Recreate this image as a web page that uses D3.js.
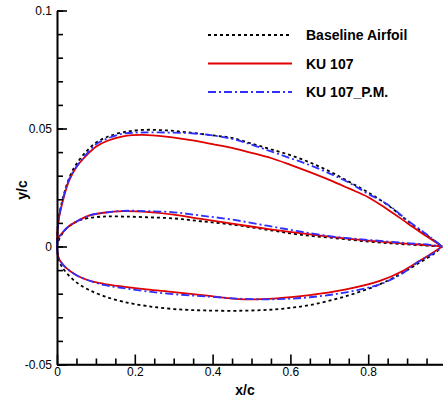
<!DOCTYPE html>
<html lang="en">
<head>
<meta charset="UTF-8">
<title>Airfoil shapes</title>
<script src="https://d3js.org/d3.v7.min.js"></script>
<style>
  body { margin: 0; background: #fff; }
  svg { display: block; font-family: "Liberation Sans", Arial, sans-serif; }
  .axis path, .axis line { stroke: #000; stroke-width: 1.6; }
  .axis text { font-size: 12px; fill: #000; }
  .lbl { font-size: 14px; font-weight: bold; }
</style>
</head>
<body>
<div id="chart"></div>
<script>
// x stations (x/c) for each surface
var xUpper  = [0, 0.003, 0.01, 0.03, 0.05, 0.075, 0.1, 0.13, 0.17, 0.22, 0.28, 0.34, 0.4, 0.45, 0.5, 0.55, 0.6, 0.65, 0.7, 0.75, 0.8, 0.85, 0.9, 0.95, 0.99];
var xMiddle = [0, 0.003, 0.012, 0.03, 0.055, 0.08, 0.12, 0.17, 0.23, 0.3, 0.37, 0.45, 0.54, 0.62, 0.71, 0.8, 0.88, 0.96, 0.99];
var xLower  = [0, 0.003, 0.01, 0.025, 0.05, 0.08, 0.12, 0.17, 0.23, 0.3, 0.38, 0.48, 0.57, 0.65, 0.74, 0.83, 0.89, 0.93, 0.97, 0.99];

// Baseline Airfoil
var baseUpper  = [0, 0.010, 0.017, 0.0285, 0.035, 0.0402, 0.044, 0.0465, 0.0484, 0.0494, 0.0492, 0.0483, 0.0471, 0.046, 0.0436, 0.0412, 0.0387, 0.0356, 0.0319, 0.0275, 0.0229, 0.0176, 0.011, 0.0048, 0];
var baseMiddle = [0, 0.002, 0.005, 0.0085, 0.0109, 0.012, 0.0127, 0.0127, 0.0124, 0.0119, 0.0107, 0.0093, 0.0071, 0.0051, 0.0036, 0.0021, 0.0011, 0.0003, 0];
var baseLower  = [0, -0.0045, -0.0078, -0.0113, -0.0152, -0.0182, -0.021, -0.0234, -0.0252, -0.0265, -0.0271, -0.0272, -0.0265, -0.0248, -0.0212, -0.016, -0.011, -0.007, -0.003, 0];

// KU 107
var kuUpper  = [0, 0.010, 0.016, 0.0275, 0.0337, 0.0385, 0.0423, 0.0448, 0.0467, 0.0473, 0.0466, 0.0452, 0.0434, 0.0418, 0.0397, 0.0375, 0.0346, 0.0315, 0.0282, 0.0246, 0.0209, 0.0157, 0.0100, 0.0043, 0];
var kuMiddle = [0, 0.0035, 0.0055, 0.0085, 0.011, 0.013, 0.0143, 0.015, 0.0147, 0.0135, 0.0117, 0.0097, 0.0075, 0.0058, 0.004, 0.0025, 0.0014, 0.0005, 0];
var kuLower  = [0, -0.0042, -0.0066, -0.0093, -0.0122, -0.0143, -0.0158, -0.017, -0.0182, -0.0193, -0.0207, -0.0224, -0.0219, -0.0206, -0.0183, -0.0146, -0.0103, -0.0063, -0.0022, 0];

// KU 107_P.M.
var pmUpper  = [0, 0.010, 0.0165, 0.028, 0.0338, 0.039, 0.0433, 0.0458, 0.0478, 0.0483, 0.0483, 0.048, 0.0471, 0.0456, 0.0432, 0.0403, 0.0374, 0.0345, 0.031, 0.0271, 0.0223, 0.0178, 0.0112, 0.0052, 0];
var pmMiddle = [0, 0.0035, 0.0055, 0.0085, 0.011, 0.013, 0.0143, 0.0151, 0.015, 0.0145, 0.0131, 0.0114, 0.0088, 0.0065, 0.0042, 0.0028, 0.0017, 0.0007, 0];
var pmLower  = [0, -0.0042, -0.0066, -0.0093, -0.0122, -0.0143, -0.0163, -0.0176, -0.019, -0.0202, -0.0211, -0.0222, -0.0223, -0.0215, -0.0195, -0.016, -0.0112, -0.0064, -0.0026, 0];

var seriesNames = ["Baseline Airfoil", "KU 107", "KU 107_P.M."];
var xTicks = [0, 0.2, 0.4, 0.6, 0.8];
var yTicks = [-0.05, 0, 0.05, 0.1];
var yTickLabels = ["-0.05", "0", "0.05", "0.1"];

var width = 443, height = 400;

var series = [
  { name: seriesNames[0], color: "#000", dash: "3,3", parts: [baseUpper, baseMiddle, baseLower] },
  { name: seriesNames[1], color: "#e00000", dash: null, parts: [kuUpper, kuMiddle, kuLower] },
  { name: seriesNames[2], color: "#2f2fff", dash: "8,3,2,3", parts: [pmUpper, pmMiddle, pmLower] }
];
var xsFor = [xUpper, xMiddle, xLower];

var svg = d3.select("#chart").append("svg")
    .attr("width", width)
    .attr("height", height);

var x = d3.scaleLinear().domain([0, 1]).range([57, 446]);
var y = d3.scaleLinear().domain([-0.05, 0.1]).range([364.5, 10.5]);

var line = d3.line()
    .x(function(d) { return x(d[0]); })
    .y(function(d) { return y(d[1]); })
    .curve(d3.curveCatmullRom.alpha(0.5));

// curves
series.forEach(function(s) {
  s.parts.forEach(function(vals, i) {
    var pts = xsFor[i].map(function(xv, j) { return [xv, vals[j]]; });
    svg.append("path")
        .datum(pts)
        .attr("fill", "none")
        .attr("stroke", s.color)
        .attr("stroke-width", 1.8)
        .attr("stroke-dasharray", s.dash)
        .attr("d", line);
  });
});

// minor ticks
var xMinor = d3.range(0, 1.0001, 0.05).filter(function(v) { return Math.abs(v * 5 - Math.round(v * 5)) > 1e-6; });
var yMinor = d3.range(-0.05, 0.1001, 0.01);

svg.append("g")
    .attr("class", "axis")
    .attr("transform", "translate(0," + y(-0.05) + ")")
    .call(d3.axisBottom(x).tickValues(xMinor).tickSizeInner(-6).tickSizeOuter(0).tickFormat(""));
svg.append("g")
    .attr("class", "axis")
    .attr("transform", "translate(" + x(0) + ",0)")
    .call(d3.axisLeft(y).tickValues(yMinor).tickSizeInner(-6).tickSizeOuter(0).tickFormat(""));

// major ticks
var xAxis = svg.append("g")
    .attr("class", "axis")
    .attr("transform", "translate(0," + y(-0.05) + ")")
    .call(d3.axisBottom(x).tickValues(xTicks).tickSizeInner(-10).tickSizeOuter(0).tickPadding(3)
      .tickFormat(function(d) { return d === 0 ? "0" : d3.format(".1f")(d); }));
xAxis.select(".domain").attr("d", "M" + x(0) + ",0H" + width);

var yAxis = svg.append("g")
    .attr("class", "axis")
    .attr("transform", "translate(" + x(0) + ",0)")
    .call(d3.axisLeft(y).tickValues(yTicks).tickSizeInner(-10).tickSizeOuter(0).tickPadding(5)
      .tickFormat(function(d, i) { return yTickLabels[i]; }));

svg.selectAll(".axis text").attr("font-family", null);

// axis titles
svg.append("text")
    .attr("class", "lbl")
    .attr("x", 245).attr("y", 395)
    .attr("text-anchor", "middle")
    .text("x/c");
svg.append("text")
    .attr("class", "lbl")
    .attr("transform", "translate(27,190) rotate(-90)")
    .attr("text-anchor", "middle")
    .text("y/c");

// legend
var leg = svg.append("g");
series.forEach(function(s, i) {
  var ly = 35 + i * 28.5;
  leg.append("line")
      .attr("x1", 208).attr("x2", 292)
      .attr("y1", ly).attr("y2", ly)
      .attr("stroke", s.color)
      .attr("stroke-width", 1.8)
      .attr("stroke-dasharray", s.dash);
  leg.append("text")
      .attr("class", "lbl")
      .attr("x", 306).attr("y", ly + 5)
      .text(s.name);
});
</script>
</body>
</html>
